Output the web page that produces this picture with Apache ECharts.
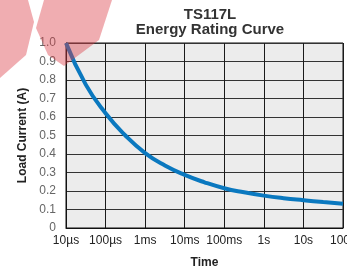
<!DOCTYPE html>
<html>
<head>
<meta charset="utf-8">
<script src="https://cdn.jsdelivr.net/npm/echarts@6/dist/echarts.min.js"></script>
<style>
  html, body { margin: 0; padding: 0; background: #fff; }
  #chart { width: 347px; height: 272px; }
</style>
</head>
<body>
<div id="chart"></div>
<script>
// time in seconds, current in A
var times = [1e-5, 3.16e-5, 1e-4, 3.16e-4, 1e-3, 3.16e-3, 1e-2, 3.16e-2, 1e-1, 3.16e-1, 1, 3.16, 10, 31.6, 100]
var current = [1.0, 0.775, 0.62, 0.5, 0.405, 0.338, 0.287, 0.247, 0.215, 0.193, 0.175, 0.161, 0.15, 0.14, 0.131]
var xTickLabels = ['10µs', '100µs', '1ms', '10ms', '100ms', '1s', '10s', '100s']
var yRange = [0, 1.0]

var chart = echarts.init(document.getElementById('chart'))

var option = {
    backgroundColor: '#fff',
    animation: false,
    title: {
        text: 'TS117L\nEnergy Rating Curve',
        left: 205,
        top: 2,
        textAlign: 'center',
        textStyle: {
            fontFamily: 'Liberation Sans',
            fontSize: 15,
            fontWeight: 'bold',
            color: '#333',
            lineHeight: 15
        }
    },
    grid: {
        left: 66,
        right: 4,
        top: 43,
        bottom: 44,
        outerBoundsMode: 'none',
        containLabel: false,
        show: true,
        backgroundColor: '#ececec',
        borderColor: '#111',
        borderWidth: 1
    },
    xAxis: {
        type: 'log',
        logBase: 10,
        min: 1e-5,
        max: 100,
        splitNumber: 7,
        name: 'Time',
        nameLocation: 'middle',
        nameGap: 29,
        nameTextStyle: { fontFamily: 'Liberation Sans', fontSize: 12, fontWeight: 'bold', color: '#222' },
        axisLine: { show: true, lineStyle: { color: '#111' } },
        axisTick: { show: false },
        axisLabel: {
            fontFamily: 'Liberation Sans',
            fontSize: 12,
            color: '#222',
            margin: 7,
            showMaxLabel: true,
            formatter: function (v) {
                return xTickLabels[Math.round(Math.log10(v)) + 5]
            }
        },
        splitLine: { show: true, lineStyle: { color: '#1a1a1a', width: 1 } }
    },
    yAxis: {
        type: 'value',
        min: yRange[0],
        max: yRange[1],
        interval: 0.1,
        name: 'Load Current (A)',
        nameLocation: 'middle',
        nameGap: 36,
        nameTextStyle: { fontFamily: 'Liberation Sans', fontSize: 12, fontWeight: 'bold', color: '#222' },
        axisLine: { show: true, lineStyle: { color: '#111' } },
        axisTick: { show: false },
        axisLabel: {
            fontFamily: 'Liberation Sans',
            fontSize: 12,
            color: '#666',
            margin: 10,
            formatter: function (v) {
                return v === 0 ? '0' : v.toFixed(1)
            }
        },
        splitLine: { show: true, lineStyle: { color: '#333', width: 1 } }
    },
    graphic: [
        // faded logo watermark in the corner
        {
            type: 'polygon',
            z: 100,
            shape: { points: [[44, 0], [112, 0], [99, 40], [64, 66], [48, 55], [36, 28]] },
            style: { fill: 'rgba(220, 60, 70, 0.42)' }
        },
        {
            type: 'polygon',
            z: 100,
            shape: { points: [[0, 0], [28, 0], [34, 22], [26, 55], [0, 78]] },
            style: { fill: 'rgba(220, 60, 70, 0.42)' }
        }
    ],
    series: [{
        type: 'line',
        data: times.map(function (t, i) { return [t, current[i]] }),
        smooth: true,
        showSymbol: false,
        lineStyle: { color: '#0a78bf', width: 4 },
        z: 5
    }]
}

chart.setOption(option)
</script>
</body>
</html>
